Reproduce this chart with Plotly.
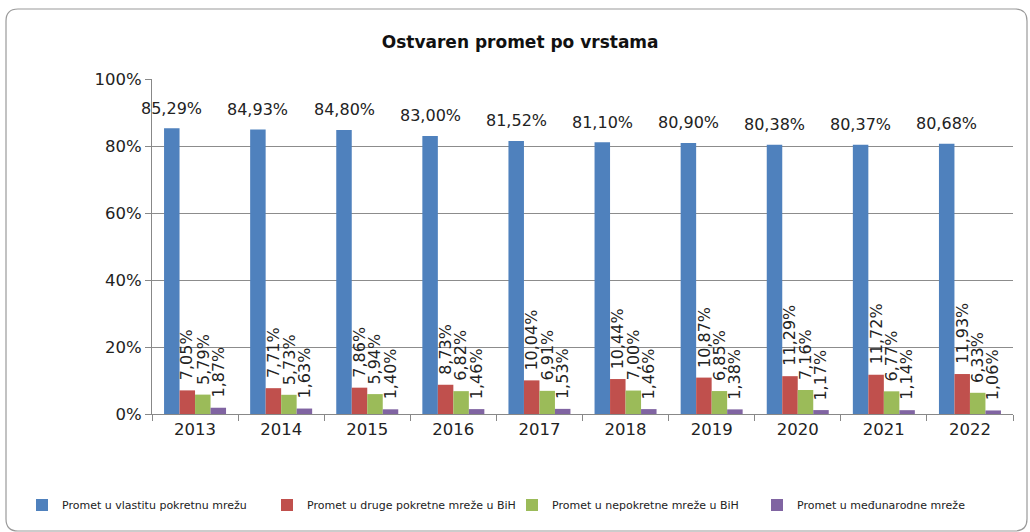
import plotly.graph_objects as go

# podaci
godine = ["2013", "2014", "2015", "2016", "2017", "2018", "2019", "2020", "2021", "2022"]
vlastita_mreza = [85.29, 84.93, 84.80, 83.00, 81.52, 81.10, 80.90, 80.38, 80.37, 80.68]
druge_pokretne = [7.05, 7.71, 7.86, 8.73, 10.04, 10.44, 10.87, 11.29, 11.72, 11.93]
nepokretne = [5.79, 5.73, 5.94, 6.82, 6.91, 7.00, 6.85, 7.16, 6.77, 6.33]
medunarodne = [1.87, 1.63, 1.40, 1.46, 1.53, 1.46, 1.38, 1.17, 1.14, 1.06]

serije = [
    ("Promet u vlastitu pokretnu mrežu", vlastita_mreza, "#4F81BD"),
    ("Promet u druge pokretne mreže u BiH", druge_pokretne, "#C0504D"),
    ("Promet u nepokretne mreže u BiH", nepokretne, "#9BBB59"),
    ("Promet u međunarodne mreže", medunarodne, "#8064A2"),
]

W, H = 1030, 532
L, R, T, B = 152, 17, 79, 118
pw, ph = W - L - R, H - T - B
BARGAP = 0.28


def px(x):
    return (x - L) / pw


def py(y):
    return (H - B - y) / ph


sirina_stupca = pw / len(godine) * (1 - BARGAP) / len(serije)

fig = go.Figure()
oznake = []
for i, (ime, vrijednosti, boja) in enumerate(serije):
    fig.add_trace(go.Bar(
        x=godine, y=vrijednosti, name=ime,
        marker=dict(color=boja, line=dict(width=0)),
    ))
    pomak = (i - 1.5) * sirina_stupca
    for j, v in enumerate(vrijednosti):
        tekst = f"{v:.2f}%".replace(".", ",")
        if i == 0:
            oznake.append(dict(x=j, y=v, text=tekst, showarrow=False,
                               xshift=pomak, yshift=20, yanchor="middle",
                               font=dict(family="DejaVu Sans", size=16, color="#222222")))
        else:
            oznake.append(dict(x=j, y=v, text=tekst, showarrow=False, textangle=-90,
                               xshift=pomak, yshift=8, yanchor="bottom",
                               font=dict(family="DejaVu Sans", size=16, color="#222222")))

# okvir sa zaobljenim uglovima
x0, x1, y0, y1, r = 6, 1027, 9, 531, 12
put = (f"M {px(x0 + r)} {py(y0)} L {px(x1 - r)} {py(y0)} "
       f"Q {px(x1)} {py(y0)} {px(x1)} {py(y0 + r)} L {px(x1)} {py(y1 - r)} "
       f"Q {px(x1)} {py(y1)} {px(x1 - r)} {py(y1)} L {px(x0 + r)} {py(y1)} "
       f"Q {px(x0)} {py(y1)} {px(x0)} {py(y1 - r)} L {px(x0)} {py(y0 + r)} "
       f"Q {px(x0)} {py(y0)} {px(x0 + r)} {py(y0)} Z")

fig.update_layout(
    width=W, height=H,
    margin=dict(l=L, r=R, t=T, b=B),
    paper_bgcolor="white", plot_bgcolor="white",
    separators=",.",
    barmode="group", bargap=BARGAP, bargroupgap=0,
    title=dict(text="<b>Ostvaren promet po vrstama</b>", x=0.505, xref="container",
               y=1 - 42 / H, yref="container", xanchor="center", yanchor="middle",
               font=dict(family="DejaVu Sans", size=17, color="#111111")),
    font=dict(family="DejaVu Sans", size=16, color="#222222"),
    xaxis=dict(type="category", categoryarray=godine, range=[-0.5, len(godine) - 0.5],
               showline=True, linecolor="#888888", linewidth=1, tickangle=0,
               ticks="outside", tickson="boundaries", ticklen=6, tickcolor="#888888",
               showgrid=False, tickfont=dict(size=16.5)),
    yaxis=dict(range=[0, 100], dtick=20, ticksuffix="%", showgrid=True,
               gridcolor="#8c8c8c", gridwidth=1, showline=True, linecolor="#888888",
               ticks="outside", ticklen=6, tickcolor="#888888", zeroline=False,
               tickfont=dict(size=16.5)),
    legend=dict(orientation="h", xref="paper", yref="paper",
                x=px(22), y=py(505), xanchor="left", yanchor="middle",
                font=dict(family="DejaVu Sans", size=11, color="#222222"),
                itemwidth=30, entrywidth=200, entrywidthmode="pixels",
                tracegroupgap=0),
    annotations=oznake,
    shapes=[dict(type="path", path=put, xref="paper", yref="paper",
                 line=dict(color="#9a9a9a", width=1.2), layer="below")],
    showlegend=True,
)

fig.write_html("out.html", config={"displayModeBar": False},
               post_script="document.body.style.margin='0px';")
